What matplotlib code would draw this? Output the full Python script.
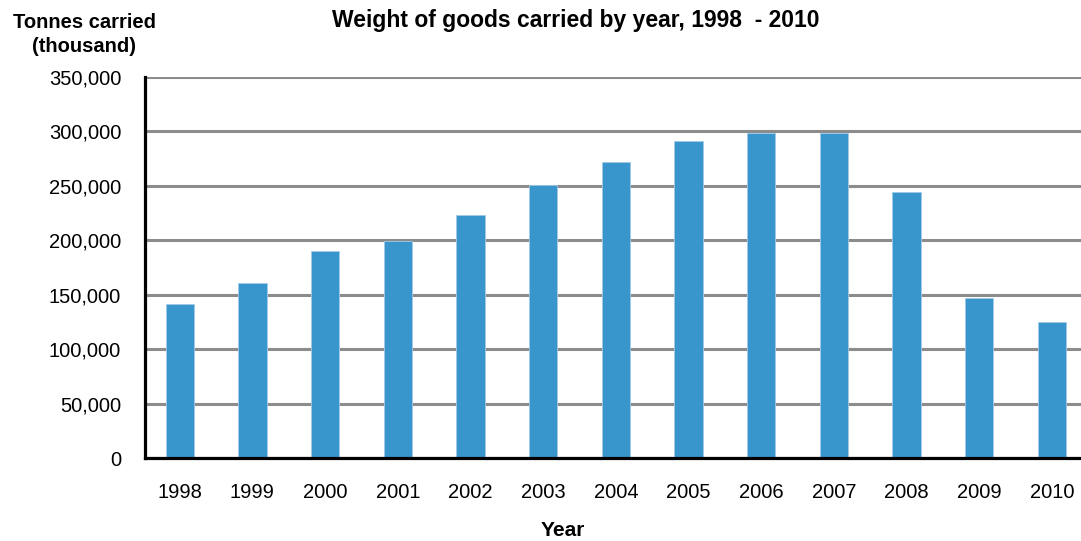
import matplotlib.pyplot as plt
from matplotlib.ticker import FuncFormatter

plt.rcParams['font.family'] = ['Liberation Sans', 'DejaVu Sans']

years = ['1998', '1999', '2000', '2001', '2002', '2003', '2004',
         '2005', '2006', '2007', '2008', '2009', '2010']
tonnes = [141800, 161000, 190500, 199000, 223000, 251000, 272000,
          291000, 298700, 298700, 244500, 147000, 124700]

fig = plt.figure(figsize=(10.81, 5.41), dpi=100)
ax = fig.add_axes([0.134, 0.1534, 0.866, 0.7043])

x = range(len(years))
ax.bar(x, tonnes, width=0.39, color='#3996cc', edgecolor='#9fcbe8',
       linewidth=0.6, zorder=3)

ax.set_ylim(0, 350000)
ax.set_xlim(-0.48, 12.4)
ax.set_yticks(range(0, 350001, 50000))
ax.yaxis.set_major_formatter(FuncFormatter(lambda v, p: f'{int(v):,}'))
ax.set_xticks(list(x))
ax.set_xticklabels(years)

ax.grid(axis='y', color='#8c8c8c', linewidth=2.2, zorder=0)
ax.tick_params(axis='y', length=0, pad=17, labelsize=14.5)
ax.tick_params(axis='x', length=0, pad=18, labelsize=14.5)

for side in ['top', 'right']:
    ax.spines[side].set_visible(False)
for side in ['left', 'bottom']:
    ax.spines[side].set_color('black')
    ax.spines[side].set_linewidth(2.3)
    ax.spines[side].set_zorder(4)

fig.text(0.533, 0.962, 'Weight of goods carried by year, 1998  - 2010',
         ha='center', va='center', fontsize=16.5, fontweight='bold')
fig.text(0.078, 0.936, 'Tonnes carried\n(thousand)', ha='center', va='center',
         fontsize=14.5, fontweight='bold', linespacing=1.3)
fig.text(0.521, 0.02, 'Year', ha='center', va='center',
         fontsize=15, fontweight='bold')

fig.savefig('out.png', dpi=100)
